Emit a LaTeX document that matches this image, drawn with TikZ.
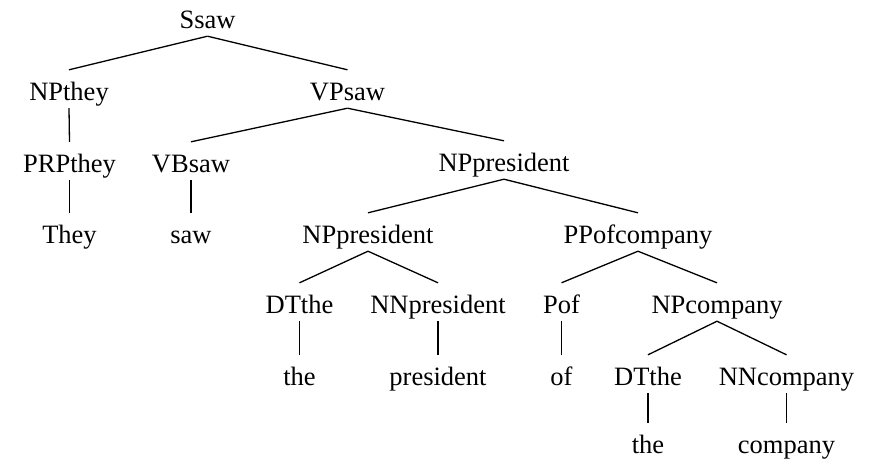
\documentclass[tikz,border=0pt]{standalone}
\usepackage{fontspec}
\setmainfont{Liberation Serif}
\begin{document}
\begin{tikzpicture}[x=1pt,y=-1pt,
  tn/.style={anchor=base,inner xsep=0pt,inner ysep=6pt,text height=24pt,text depth=2pt,
    font=\fontsize{26.5pt}{30pt}\selectfont},
  edge/.style={line width=1.3pt}]
\useasboundingbox (0,0) rectangle (872,464);
\node[tn] (s) at (207.5,28) {Ssaw};
\node[tn] (npthey) at (69,100) {NPthey};
\node[tn] (vp) at (347.5,100) {VPsaw};
\node[tn] (prp) at (69.5,172) {PRPthey};
\node[tn] (vb) at (191,172) {VBsaw};
\node[tn] (np1) at (504,171) {NPpresident};
\node[tn] (they) at (69.5,243) {They};
\node[tn] (saw) at (191,243) {saw};
\node[tn] (np2) at (368,243) {NPpresident};
\node[tn] (pp) at (638,243) {PPofcompany};
\node[tn] (dt1) at (299.5,313) {DTthe};
\node[tn] (nn1) at (438,313) {NNpresident};
\node[tn] (p) at (561.5,313) {Pof};
\node[tn] (np3) at (717,313) {NPcompany};
\node[tn] (the1) at (299.5,385) {the};
\node[tn] (pres) at (438,385) {president};
\node[tn] (of) at (561.5,385) {of};
\node[tn] (dt2) at (648,385) {DTthe};
\node[tn] (nn2) at (786.5,385) {NNcompany};
\node[tn] (the2) at (648,453) {the};
\node[tn] (comp) at (786.5,453) {company};
\foreach \a/\b in {s/npthey,s/vp,npthey/prp,vp/vb,vp/np1,prp/they,vb/saw,np1/np2,np1/pp,
  np2/dt1,np2/nn1,pp/p,pp/np3,dt1/the1,nn1/pres,p/of,np3/dt2,np3/nn2,dt2/the2,nn2/comp}
  \draw[edge] (\a.south) -- (\b.north);
\end{tikzpicture}
\end{document}
